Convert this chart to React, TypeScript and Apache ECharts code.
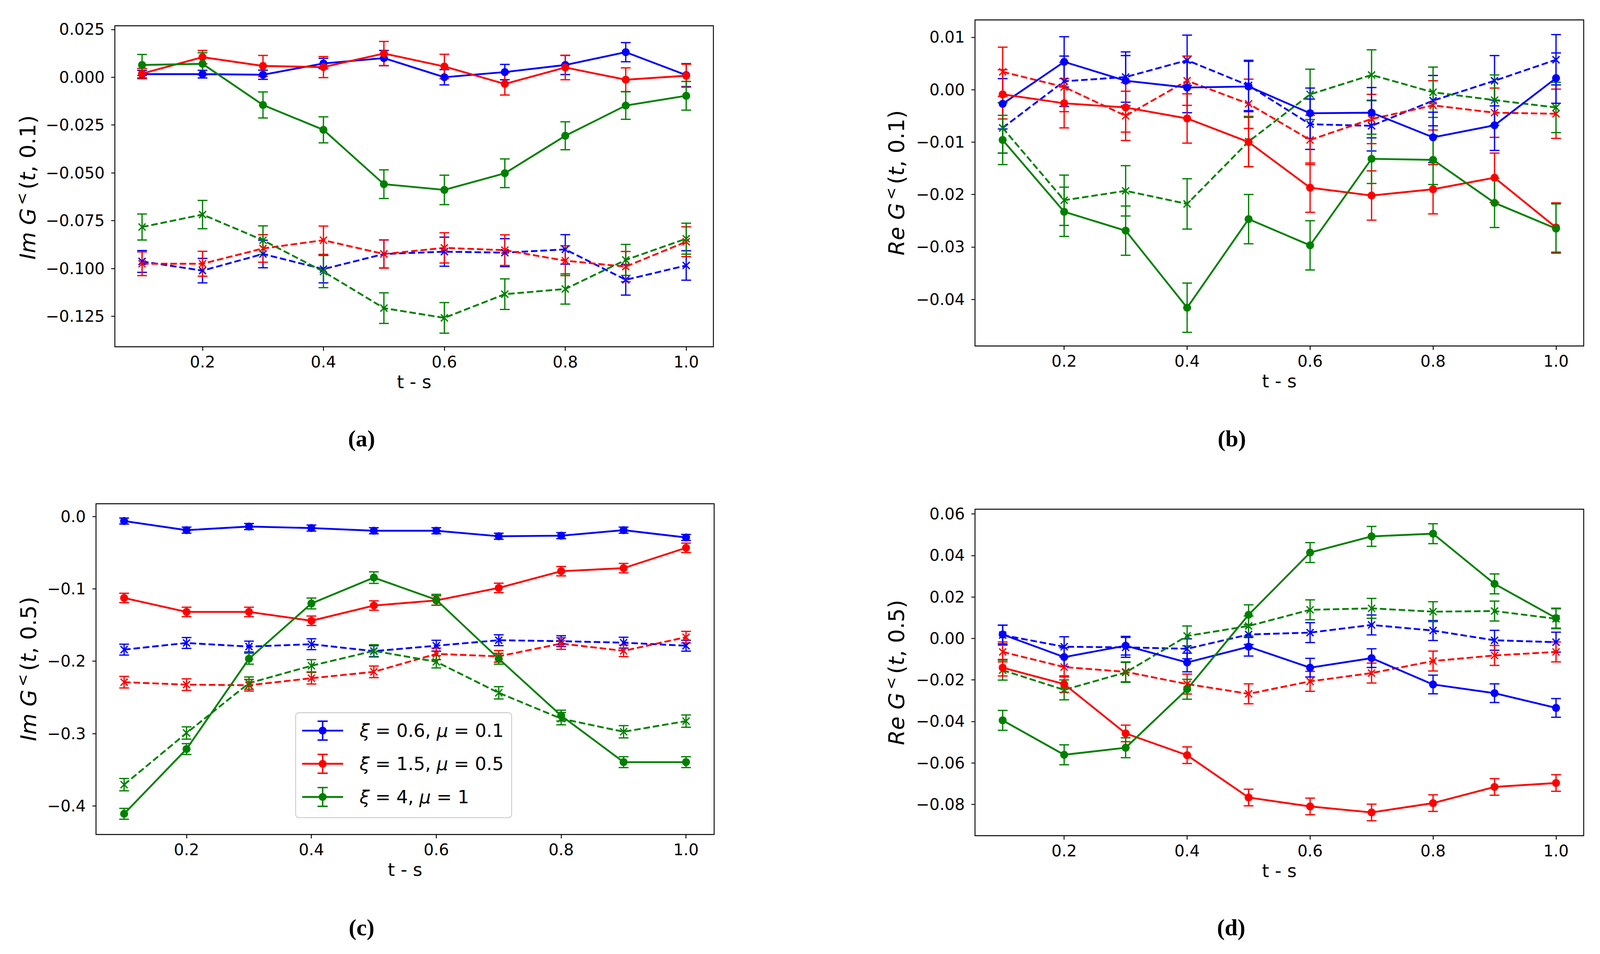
import React, { useEffect, useRef, useState } from "react";
import * as echarts from "echarts";

// ---------- data ----------
const T = [0.1, 0.2, 0.3, 0.4, 0.5, 0.6, 0.7, 0.8, 0.9, 1.0];
const X_TICKS = [0.2, 0.4, 0.6, 0.8, 1.0];
const LEGEND_NAMES = ["ξ = 0.6, μ = 0.1", "ξ = 1.5, μ = 0.5", "ξ = 4, μ = 1"];

// (a) Im G<(t, 0.1)
const A_BLUE = [0.0016, 0.0016, 0.0013, 0.0072, 0.01, 0.0, 0.0027, 0.0064, 0.0131, 0.0011];
const A_BLUE_ERR = [0.002, 0.002, 0.0024, 0.0027, 0.004, 0.004, 0.004, 0.005, 0.005, 0.006];
const A_RED = [0.0019, 0.0105, 0.0059, 0.0053, 0.0124, 0.0056, -0.0035, 0.0051, -0.0013, 0.0008];
const A_RED_ERR = [0.0027, 0.0035, 0.0055, 0.0055, 0.0063, 0.0064, 0.0058, 0.0064, 0.0062, 0.006];
const A_GREEN = [0.0064, 0.007, -0.0145, -0.0275, -0.0559, -0.0589, -0.0502, -0.0306, -0.0148, -0.0097];
const A_GREEN_ERR = [0.0055, 0.0058, 0.0068, 0.0068, 0.0075, 0.0077, 0.0075, 0.0073, 0.0072, 0.0075];
const A_BLUE_D = [-0.0963, -0.1011, -0.0924, -0.1003, -0.0924, -0.0912, -0.0917, -0.09, -0.1059, -0.0984];
const A_BLUE_D_ERR = [0.0057, 0.0064, 0.0072, 0.0072, 0.0073, 0.0076, 0.0073, 0.0077, 0.008, 0.0077];
const A_RED_D = [-0.0975, -0.0975, -0.0895, -0.0852, -0.0924, -0.0892, -0.0904, -0.0959, -0.099, -0.086];
const A_RED_D_ERR = [0.0062, 0.0065, 0.0072, 0.0074, 0.0074, 0.0079, 0.008, 0.0078, 0.0079, 0.0078];
const A_GREEN_D = [-0.0783, -0.0718, -0.0852, -0.1016, -0.1207, -0.1258, -0.1134, -0.1107, -0.0955, -0.0844];
const A_GREEN_D_ERR = [0.0068, 0.0074, 0.0075, 0.0084, 0.008, 0.008, 0.008, 0.0079, 0.0081, 0.0081];
const A_Y_TICKS = [-0.125, -0.1, -0.075, -0.05, -0.025, 0.0, 0.025];

// (b) Re G<(t, 0.1)
const B_BLUE = [-0.0027, 0.0053, 0.0017, 0.0004, 0.0006, -0.0045, -0.0044, -0.0091, -0.0068, 0.0022];
const B_BLUE_ERR = [0.0048, 0.0048, 0.0048, 0.0048, 0.0048, 0.0048, 0.0048, 0.0048, 0.0048, 0.0048];
const B_RED = [-0.0009, -0.0026, -0.0034, -0.0055, -0.01, -0.0187, -0.0202, -0.019, -0.0168, -0.0263];
const B_RED_ERR = [0.0047, 0.0047, 0.0047, 0.0047, 0.0047, 0.0047, 0.0047, 0.0047, 0.0047, 0.0047];
const B_GREEN = [-0.0096, -0.0233, -0.0269, -0.0416, -0.0247, -0.0297, -0.0132, -0.0134, -0.0216, -0.0265];
const B_GREEN_ERR = [0.0047, 0.0047, 0.0047, 0.0047, 0.0047, 0.0047, 0.0047, 0.0047, 0.0047, 0.0047];
const B_BLUE_D = [-0.0073, 0.0016, 0.0024, 0.0056, 0.0008, -0.0066, -0.0069, -0.0021, 0.0017, 0.0057];
const B_BLUE_D_ERR = [0.0048, 0.0048, 0.0048, 0.0048, 0.0048, 0.0048, 0.0048, 0.0048, 0.0048, 0.0048];
const B_RED_D = [0.0034, 0.0005, -0.005, 0.0017, -0.0027, -0.0096, -0.0056, -0.003, -0.0044, -0.0046];
const B_RED_D_ERR = [0.0047, 0.0047, 0.0047, 0.0047, 0.0047, 0.0047, 0.0047, 0.0047, 0.0047, 0.0047];
const B_GREEN_D = [-0.0073, -0.0211, -0.0193, -0.0218, -0.0099, -0.0009, 0.0028, -0.0005, -0.002, -0.0034];
const B_GREEN_D_ERR = [0.0048, 0.0048, 0.0048, 0.0048, 0.0048, 0.0048, 0.0048, 0.0048, 0.0048, 0.0048];
const B_Y_TICKS = [-0.04, -0.03, -0.02, -0.01, 0.0, 0.01];

// (c) Im G<(t, 0.5)
const C_BLUE = [-0.0063, -0.0189, -0.0139, -0.016, -0.0197, -0.0197, -0.0273, -0.0265, -0.0189, -0.029];
const C_BLUE_ERR = [0.0042, 0.0042, 0.0042, 0.0042, 0.0042, 0.0042, 0.0042, 0.0042, 0.0042, 0.0042];
const C_RED = [-0.1126, -0.1319, -0.1319, -0.1441, -0.1231, -0.116, -0.0987, -0.0756, -0.0714, -0.0433];
const C_RED_ERR = [0.0065, 0.0065, 0.0065, 0.0065, 0.0065, 0.0065, 0.0065, 0.0065, 0.0065, 0.0065];
const C_GREEN = [-0.4109, -0.3214, -0.1966, -0.1202, -0.0845, -0.1151, -0.1966, -0.2752, -0.3395, -0.3395];
const C_GREEN_ERR = [0.0075, 0.0075, 0.0075, 0.0075, 0.008, 0.0075, 0.0075, 0.0075, 0.0075, 0.0075];
const C_BLUE_D = [-0.184, -0.1748, -0.1798, -0.1765, -0.1861, -0.1786, -0.171, -0.1723, -0.1744, -0.1786];
const C_BLUE_D_ERR = [0.0075, 0.0075, 0.0075, 0.0075, 0.0075, 0.0075, 0.0075, 0.0075, 0.0075, 0.0075];
const C_RED_D = [-0.229, -0.2324, -0.2332, -0.2235, -0.2147, -0.1899, -0.1933, -0.1756, -0.1857, -0.1668];
const C_RED_D_ERR = [0.008, 0.008, 0.008, 0.008, 0.008, 0.008, 0.008, 0.008, 0.008, 0.008];
const C_GREEN_D = [-0.3706, -0.2992, -0.2303, -0.2063, -0.1857, -0.2008, -0.2437, -0.2794, -0.2975, -0.2828];
const C_GREEN_D_ERR = [0.0085, 0.0085, 0.0085, 0.0085, 0.0085, 0.0085, 0.0085, 0.0085, 0.0085, 0.0085];
const C_Y_TICKS = [-0.4, -0.3, -0.2, -0.1, 0.0];

// (d) Re G<(t, 0.5)
const D_BLUE = [0.0019, -0.009, -0.0035, -0.0116, -0.004, -0.0141, -0.0095, -0.0222, -0.0264, -0.0335];
const D_BLUE_ERR = [0.0045, 0.0045, 0.0045, 0.0045, 0.0045, 0.0045, 0.0045, 0.0045, 0.0045, 0.0045];
const D_RED = [-0.0141, -0.022, -0.0458, -0.0563, -0.0767, -0.081, -0.0839, -0.0794, -0.0716, -0.0697];
const D_RED_ERR = [0.004, 0.004, 0.004, 0.004, 0.004, 0.004, 0.004, 0.004, 0.004, 0.004];
const D_GREEN = [-0.0395, -0.0561, -0.0527, -0.0245, 0.0114, 0.0414, 0.0492, 0.0505, 0.0263, 0.0098];
const D_GREEN_ERR = [0.0048, 0.0048, 0.0048, 0.0048, 0.0048, 0.0048, 0.0048, 0.0048, 0.0048, 0.0048];
const D_BLUE_D = [0.0016, -0.004, -0.0043, -0.005, 0.0019, 0.0028, 0.0065, 0.0038, -0.0009, -0.0018];
const D_BLUE_D_ERR = [0.0048, 0.0048, 0.0048, 0.0048, 0.0048, 0.0048, 0.0048, 0.0048, 0.0048, 0.0048];
const D_RED_D = [-0.0065, -0.0138, -0.0161, -0.022, -0.0267, -0.0207, -0.0167, -0.0109, -0.0082, -0.0065];
const D_RED_D_ERR = [0.0048, 0.0048, 0.0048, 0.0048, 0.0048, 0.0048, 0.0048, 0.0048, 0.0048, 0.0048];
const D_GREEN_D = [-0.0153, -0.0248, -0.0164, 0.0012, 0.006, 0.0138, 0.0145, 0.0129, 0.0132, 0.0095];
const D_GREEN_D_ERR = [0.0048, 0.0048, 0.0048, 0.0048, 0.0048, 0.0048, 0.0048, 0.0048, 0.0048, 0.0048];
const D_Y_TICKS = [-0.08, -0.06, -0.04, -0.02, 0.0, 0.02, 0.04, 0.06];

// ---------- styling / layout (reference pixel units, 4416 x 2443) ----------
const REF_W = 4416;
const REF_H = 2443;
const COLORS = ["#0000ff", "#ff0000", "#008000"];
const FONT = "DejaVu Sans";
const X_SYMBOL =
  "path://M0 2.6L2.6 0L11 8.4L19.4 0L22 2.6L13.6 11L22 19.4L19.4 22L11 13.6L2.6 22L0 19.4L8.4 11Z";
const LEGEND_ICON =
  "path://M0 25.5H113V30.5H0Z M54.5 0H58.5V56H54.5Z M42.5 0H70.5V4H42.5Z M42.5 52H70.5V56H42.5Z M45.5 28A11 11 0 1 1 67.5 28A11 11 0 1 1 45.5 28Z";

const PANELS = [
  {
    grid: { left: 317, top: 66, width: 1652, height: 822 },
    yMin: -0.1409, yMax: 0.0269, yTicks: A_Y_TICKS, dec: 3,
    solid: [[A_BLUE, A_BLUE_ERR], [A_RED, A_RED_ERR], [A_GREEN, A_GREEN_ERR]],
    dashed: [[A_BLUE_D, A_BLUE_D_ERR], [A_RED_D, A_RED_D_ERR], [A_GREEN_D, A_GREEN_D_ERR]],
    ylab: { x: 76, y: 480, kind: "Im", arg: "0.1" },
    letter: { x: 998, y: 1123, text: "(a)" },
  },
  {
    grid: { left: 2691, top: 51, width: 1680, height: 835 },
    yMin: -0.0489, yMax: 0.0133, yTicks: B_Y_TICKS, dec: 2,
    solid: [[B_BLUE, B_BLUE_ERR], [B_RED, B_RED_ERR], [B_GREEN, B_GREEN_ERR]],
    dashed: [[B_BLUE_D, B_BLUE_D_ERR], [B_RED_D, B_RED_D_ERR], [B_GREEN_D, B_GREEN_D_ERR]],
    ylab: { x: 2474, y: 468, kind: "Re", arg: "0.1" },
    letter: { x: 3400, y: 1123, text: "(b)" },
  },
  {
    grid: { left: 265, top: 1290, width: 1706, height: 847 },
    yMin: -0.4395, yMax: 0.0176, yTicks: C_Y_TICKS, dec: 1,
    solid: [[C_BLUE, C_BLUE_ERR], [C_RED, C_RED_ERR], [C_GREEN, C_GREEN_ERR]],
    dashed: [[C_BLUE_D, C_BLUE_D_ERR], [C_RED_D, C_RED_D_ERR], [C_GREEN_D, C_GREEN_D_ERR]],
    ylab: { x: 78, y: 1713, kind: "Im", arg: "0.5" },
    letter: { x: 998, y: 2375, text: "(c)" },
  },
  {
    grid: { left: 2691, top: 1304, width: 1680, height: 836 },
    yMin: -0.0951, yMax: 0.0623, yTicks: D_Y_TICKS, dec: 2,
    solid: [[D_BLUE, D_BLUE_ERR], [D_RED, D_RED_ERR], [D_GREEN, D_GREEN_ERR]],
    dashed: [[D_BLUE_D, D_BLUE_D_ERR], [D_RED_D, D_RED_D_ERR], [D_GREEN_D, D_GREEN_D_ERR]],
    ylab: { x: 2474, y: 1722, kind: "Re", arg: "0.5" },
    letter: { x: 3398, y: 2375, text: "(d)" },
  },
];

const fmt = (v: number, dec: number) => v.toFixed(dec).replace("-", "\u2212");

function buildOption(kx: number, ky: number) {
  const k = Math.min(kx, ky);
  const X = (v: number) => v * kx;
  const Y = (v: number) => v * ky;
  const K = (v: number) => v * k;

  const errorSeries = (gi: number, vals: number[], errs: number[], color: string) => ({
    type: "custom",
    name: "errorbar",
    xAxisIndex: gi,
    yAxisIndex: gi,
    z: 2,
    silent: true,
    dimensions: ["t", "v", "e"],
    encode: { x: 0, y: 1 },
    data: T.map((t, i) => [t, vals[i], errs[i]]),
    renderItem: (_p: any, api: any) => {
      const x = api.value(0);
      const y = api.value(1);
      const e = api.value(2);
      const lo = api.coord([x, y - e]);
      const hi = api.coord([x, y + e]);
      const style = { stroke: color, lineWidth: K(3.5) };
      const cap = X(13.5);
      return {
        type: "group",
        children: [
          { type: "line", shape: { x1: lo[0], y1: lo[1], x2: hi[0], y2: hi[1] }, style },
          { type: "line", shape: { x1: lo[0] - cap, y1: lo[1], x2: lo[0] + cap, y2: lo[1] }, style },
          { type: "line", shape: { x1: hi[0] - cap, y1: hi[1], x2: hi[0] + cap, y2: hi[1] }, style },
        ],
      };
    },
  });

  const lineSeries = (gi: number, name: string, vals: number[], color: string, dashed: boolean) => ({
    type: "line",
    name,
    xAxisIndex: gi,
    yAxisIndex: gi,
    z: 3,
    data: T.map((t, i) => [t, vals[i]]),
    symbol: dashed ? X_SYMBOL : "circle",
    symbolSize: K(22),
    showSymbol: true,
    color,
    itemStyle: { color, borderWidth: 0 },
    lineStyle: { color, width: K(5), type: dashed ? [K(18), K(8)] : "solid" },
    emphasis: { disabled: true },
  });

  const grids: any[] = [];
  const xAxes: any[] = [];
  const yAxes: any[] = [];
  const series: any[] = [];
  const graphics: any[] = [];

  PANELS.forEach((p, gi) => {
    grids.push({
      left: X(p.grid.left),
      top: Y(p.grid.top),
      width: X(p.grid.width),
      height: Y(p.grid.height),
      show: true,
      borderColor: "#000",
      borderWidth: K(2.5),
      backgroundColor: "transparent",
      containLabel: false,
      outerBoundsMode: "none",
    });
    xAxes.push({
      type: "value",
      gridIndex: gi,
      min: 0.055,
      max: 1.045,
      name: "t - s",
      nameLocation: "middle",
      nameGap: Y(64),
      nameTextStyle: { fontFamily: FONT, fontSize: K(50), color: "#000", lineHeight: K(56) },
      axisLine: { show: false, onZero: false },
      axisTick: { show: true, length: Y(10), customValues: X_TICKS, lineStyle: { color: "#000", width: K(2.5) } },
      axisLabel: {
        customValues: X_TICKS, margin: Y(18), fontFamily: FONT, fontSize: K(44), color: "#000",
        formatter: (v: number) => v.toFixed(1),
      },
      splitLine: { show: false },
    });
    yAxes.push({
      type: "value",
      gridIndex: gi,
      min: p.yMin,
      max: p.yMax,
      axisLine: { show: false, onZero: false },
      axisTick: { show: true, length: X(10), customValues: p.yTicks, lineStyle: { color: "#000", width: K(2.5) } },
      axisLabel: {
        customValues: p.yTicks, margin: X(28), fontFamily: FONT, fontSize: K(44), color: "#000",
        formatter: (v: number) => fmt(v, p.dec),
      },
      splitLine: { show: false },
    });

    p.dashed.forEach(([vals, errs], i) => {
      series.push(errorSeries(gi, vals, errs, COLORS[i]));
      series.push(lineSeries(gi, LEGEND_NAMES[i] + " (x)", vals, COLORS[i], true));
    });
    p.solid.forEach(([vals, errs], i) => {
      series.push(errorSeries(gi, vals, errs, COLORS[i]));
      series.push(lineSeries(gi, LEGEND_NAMES[i], vals, COLORS[i], false));
    });

    const fy = 56 * ky;
    const rich = {
      i: { fontFamily: FONT, fontStyle: "italic", fontSize: fy, fill: "#000", color: "#000" },
      n: { fontFamily: FONT, fontSize: fy, fill: "#000", color: "#000" },
      s: { fontFamily: FONT, fontSize: fy * 0.68, fill: "#000", color: "#000", padding: [0, fy * 0.14, fy * 0.5, fy * 0.14] },
    };
    graphics.push({
      type: "text",
      x: X(p.ylab.x),
      y: Y(p.ylab.y),
      rotation: Math.PI / 2,
      style: {
        text: `{i|${p.ylab.kind} G}{s|<}{n|(}{i|t}{n|, ${p.ylab.arg})}`,
        rich,
        fontFamily: FONT,
        fontSize: fy,
        fill: "#000",
        align: "center",
        verticalAlign: "middle",
      },
    });
    graphics.push({
      type: "text",
      x: X(p.letter.x),
      y: Y(p.letter.y),
      style: {
        text: p.letter.text,
        fontFamily: "Liberation Serif",
        fontWeight: "bold",
        fontSize: K(64),
        fill: "#000",
        align: "center",
        verticalAlign: "middle",
      },
    });
  });

  return {
    animation: false,
    backgroundColor: "#ffffff",
    grid: grids,
    xAxis: xAxes,
    yAxis: yAxes,
    series,
    graphic: graphics,
    legend: {
      orient: "vertical",
      left: X(816),
      top: Y(1825),
      padding: [Y(20), X(22), Y(27), X(18)],
      itemGap: Y(33),
      itemWidth: X(113),
      itemHeight: Y(56),
      selectedMode: false,
      backgroundColor: "rgba(255,255,255,0.8)",
      borderColor: "#cccccc",
      borderWidth: K(2.5),
      borderRadius: K(9),
      itemStyle: { borderWidth: 0 },
      data: LEGEND_NAMES.map((n) => ({ name: n, icon: LEGEND_ICON })),
      formatter: (name: string) => {
        const m = name.match(/^ξ = (.+), μ = (.+)$/);
        if (!m) return name;
        return `{g|}{i|ξ}{n| = ${m[1]}, }{i|μ}{n| = ${m[2]}}`;
      },
      textStyle: {
        fontFamily: FONT,
        fontSize: K(50),
        color: "#000",
        rich: {
          g: { width: X(40) },
          i: { fontFamily: FONT, fontStyle: "italic", fontSize: K(50), color: "#000" },
          n: { fontFamily: FONT, fontSize: K(50), color: "#000" },
        },
      },
    },
  };
}

export default function App() {
  const ref = useRef<HTMLDivElement>(null);
  const [size] = useState(() => {
    document.body.style.margin = "0";
    document.body.style.overflow = "hidden";
    const w = window.innerWidth || REF_W;
    const h = window.innerHeight || REF_H;
    return { w, h };
  });
  useEffect(() => {
    if (!ref.current) return;
    const chart = echarts.init(ref.current, undefined, { renderer: "svg" });
    chart.setOption(buildOption(size.w / REF_W, size.h / REF_H) as any);
    return () => chart.dispose();
  }, [size]);
  return <div ref={ref} style={{ width: size.w, height: size.h, background: "#fff" }} />;
}
